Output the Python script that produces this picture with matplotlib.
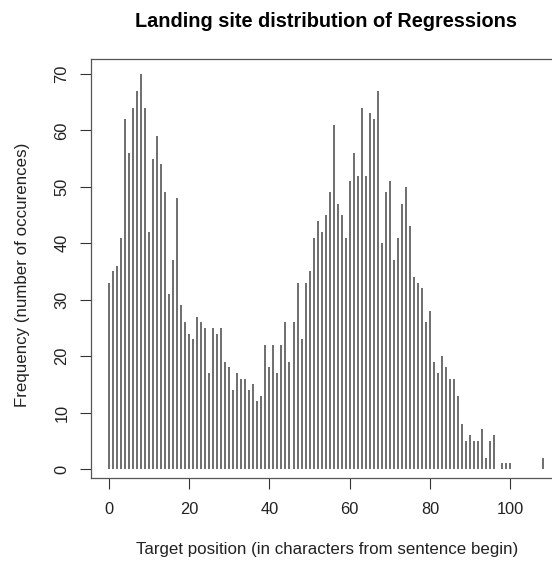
import matplotlib.pyplot as plt

plt.rcParams['font.family'] = ['Liberation Sans', 'DejaVu Sans']

# landing position (characters from sentence begin) and number of regressions
positions = list(range(0, 97)) + [98, 99, 100, 108]
counts = [
    33, 35, 36, 41, 62, 56, 64, 67, 70, 64,
    42, 55, 59, 54, 49, 31, 37, 48, 29, 26,
    24, 23, 27, 26, 25, 17, 25, 24, 25, 19,
    18, 14, 17, 16, 16, 14, 15, 12, 13, 22,
    18, 22, 17, 22, 26, 19, 26, 33, 23, 33,
    35, 41, 44, 42, 45, 49, 61, 47, 45, 41,
    51, 56, 52, 64, 52, 63, 62, 67, 40, 49,
    51, 37, 41, 47, 50, 43, 34, 33, 32, 26,
    28, 19, 17, 20, 18, 16, 16, 13, 8, 5,
    6, 5, 5, 7, 2, 5, 6,
    1, 1, 1, 2,
]
x_ticks = [0, 20, 40, 60, 80, 100]
y_ticks = [0, 10, 20, 30, 40, 50, 60, 70]

W, H = 552, 561
fig = plt.figure(figsize=(W / 100, H / 100), dpi=100)
left, right, top, bottom = 91.3, 560.0, 59.3, 477.7
ax = fig.add_axes([left / W, 1 - bottom / H, (right - left) / W, (bottom - top) / H])

ax.vlines(positions, 0, counts, colors='#4d4d4d', linewidth=1.15)

ax.set_xlim(-4.32, 112.32)
ax.set_ylim(-1.55, 72.6)
ax.set_xticks(x_ticks)
ax.set_yticks(y_ticks)
ax.tick_params(direction='out', length=7.7, width=0.8, color='#333333',
               labelsize=11.8, labelcolor='#222222')
ax.tick_params(axis='x', pad=10)
ax.tick_params(axis='y', pad=8, labelrotation=90)
for lab in ax.get_yticklabels():
    lab.set_va('center')

for sp in ax.spines.values():
    sp.set_color('#555555')
    sp.set_linewidth(0.9)

ax.set_title('Landing site distribution of Regressions', fontsize=14.3,
             fontweight='bold', pad=23.5)
ax.set_xlabel('Target position (in characters from sentence begin)', fontsize=12.2,
              color='#222222')
ax.set_ylabel('Frequency (number of occurences)', fontsize=12.2, color='#222222')
ax.xaxis.set_label_coords((327 - left) / (right - left), -(542 - bottom) / (bottom - top))
ax.yaxis.set_label_coords(-(left - 30) / (right - left), (bottom - 275) / (bottom - top))

fig.savefig('out.png', dpi=100)
